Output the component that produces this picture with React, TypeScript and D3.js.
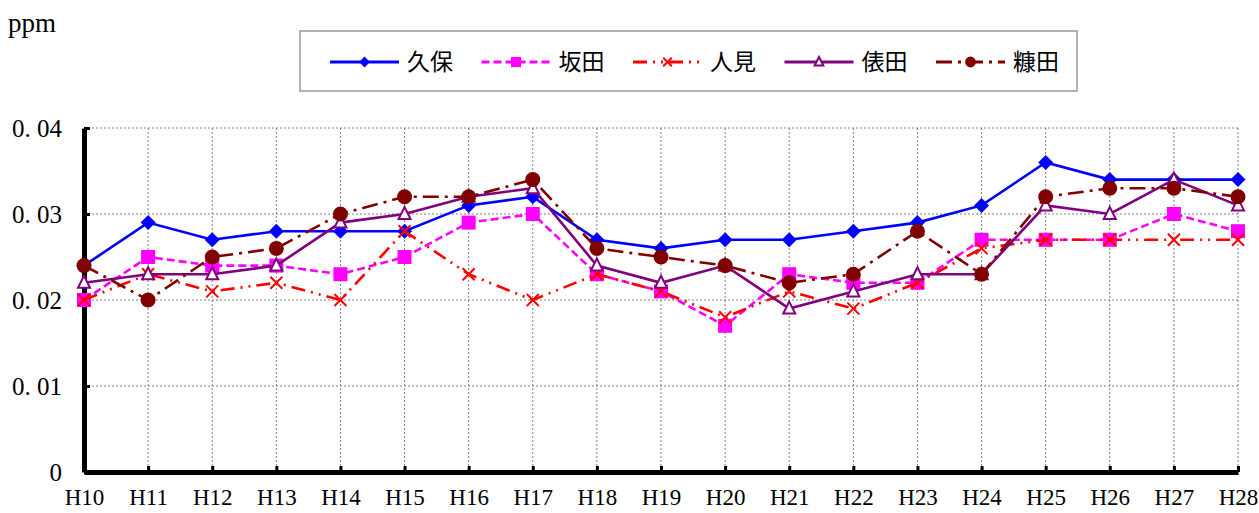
import React, { useEffect, useRef } from 'react';
import * as d3 from 'd3';

const years = ['H10', 'H11', 'H12', 'H13', 'H14', 'H15', 'H16', 'H17', 'H18', 'H19', 'H20', 'H21', 'H22', 'H23', 'H24', 'H25', 'H26', 'H27', 'H28'];

const kubo = [0.024, 0.029, 0.027, 0.028, 0.028, 0.028, 0.031, 0.032, 0.027, 0.026, 0.027, 0.027, 0.028, 0.029, 0.031, 0.036, 0.034, 0.034, 0.034];
const sakata = [0.020, 0.025, 0.024, 0.024, 0.023, 0.025, 0.029, 0.030, 0.023, 0.021, 0.017, 0.023, 0.022, 0.022, 0.027, 0.027, 0.027, 0.030, 0.028];
const hitomi = [0.020, 0.023, 0.021, 0.022, 0.020, 0.028, 0.023, 0.020, 0.023, 0.021, 0.018, 0.021, 0.019, 0.022, 0.026, 0.027, 0.027, 0.027, 0.027];
const tawarada = [0.022, 0.023, 0.023, 0.024, 0.029, 0.030, 0.032, 0.033, 0.024, 0.022, 0.024, 0.019, 0.021, 0.023, 0.023, 0.031, 0.030, 0.034, 0.031];
const nukada = [0.024, 0.020, 0.025, 0.026, 0.030, 0.032, 0.032, 0.034, 0.026, 0.025, 0.024, 0.022, 0.023, 0.028, 0.023, 0.032, 0.033, 0.033, 0.032];

const yTicks = [0, 0.01, 0.02, 0.03, 0.04];
const yTickLabels = ['0', '0. 01', '0. 02', '0. 03', '0. 04'];

type Marker = 'diamond' | 'square' | 'cross' | 'triangle' | 'circle';

const series: { name: string; values: number[]; color: string; dash: string | null; marker: Marker }[] = [
  { name: '久保', values: kubo, color: '#0000ff', dash: null, marker: 'diamond' },
  { name: '坂田', values: sakata, color: '#ff00ff', dash: '8,4', marker: 'square' },
  { name: '人見', values: hitomi, color: '#ff0000', dash: '14,6,2,6,2,6', marker: 'cross' },
  { name: '俵田', values: tawarada, color: '#800080', dash: null, marker: 'triangle' },
  { name: '糠田', values: nukada, color: '#800000', dash: '16,6,3,6', marker: 'circle' },
];

const W = 1259;
const H = 513;
const serif = '"Liberation Serif", "DejaVu Serif", serif';

// s = marker scale (1 in the plot, smaller in the legend)
function drawMarker(g: d3.Selection<SVGGElement, unknown, null, undefined>, type: Marker, x: number, y: number, color: string, s = 1) {
  if (type === 'diamond') {
    g.append('path').attr('d', `M${x},${y - 7.5 * s}L${x + 7.5 * s},${y}L${x},${y + 7.5 * s}L${x - 7.5 * s},${y}Z`).attr('fill', color);
  } else if (type === 'square') {
    g.append('rect').attr('x', x - 7 * s).attr('y', y - 7 * s).attr('width', 14 * s).attr('height', 14 * s).attr('fill', color);
  } else if (type === 'cross') {
    const r = 6 * s;
    g.append('path').attr('d', `M${x - r},${y - r}L${x + r},${y + r}M${x + r},${y - r}L${x - r},${y + r}`)
      .attr('stroke', color).attr('stroke-width', 2).attr('fill', 'none');
  } else if (type === 'triangle') {
    g.append('path').attr('d', `M${x},${y - 7 * s}L${x + 6 * s},${y + 5 * s}L${x - 6 * s},${y + 5 * s}Z`)
      .attr('fill', 'white').attr('stroke', color).attr('stroke-width', 2);
  } else {
    g.append('circle').attr('cx', x).attr('cy', y).attr('r', 7.5 * s).attr('fill', color);
  }
}

const App: React.FC = () => {
  const ref = useRef<SVGSVGElement | null>(null);

  useEffect(() => {
    if (!ref.current) return;
    const svg = d3.select(ref.current);
    svg.selectAll('*').remove();

    const x = d3.scalePoint<string>().domain(years).range([84, 1238]);
    const y = d3.scaleLinear().domain([0, 0.04]).range([472, 128]);

    // grid
    const grid = svg.append('g');
    yTicks.filter(t => t > 0).forEach(t => {
      grid.append('line').attr('x1', 84).attr('x2', 1238).attr('y1', y(t)).attr('y2', y(t))
        .attr('stroke', '#808080').attr('stroke-width', 1).attr('stroke-dasharray', '2,2');
    });
    years.slice(1).forEach(yr => {
      grid.append('line').attr('x1', x(yr)!).attr('x2', x(yr)!).attr('y1', 128).attr('y2', 472)
        .attr('stroke', '#808080').attr('stroke-width', 1).attr('stroke-dasharray', '2,2');
    });

    // axes
    const yAxis = d3.axisLeft(y).tickValues(yTicks).tickSizeInner(-6).tickSizeOuter(0).tickPadding(22)
      .tickFormat((_, i) => yTickLabels[i]);
    const gy = svg.append('g').attr('transform', 'translate(84,0)').call(yAxis);
    gy.select('.domain').attr('stroke-width', 5).attr('stroke', '#000');
    gy.selectAll('.tick line').attr('stroke-width', 3);
    gy.selectAll('text').attr('font-family', serif).attr('font-size', 25).attr('fill', '#000');

    const xAxis = d3.axisBottom(x).tickSizeInner(-6).tickSizeOuter(0).tickPadding(17);
    const gx = svg.append('g').attr('transform', 'translate(0,472)').call(xAxis);
    gx.select('.domain').attr('stroke-width', 5).attr('stroke', '#000');
    gx.selectAll('.tick line').attr('stroke-width', 3);
    gx.selectAll('text').attr('font-family', serif).attr('font-size', 23).attr('fill', '#000');

    svg.append('text').attr('x', 8).attr('y', 32).text('ppm')
      .attr('font-family', serif).attr('font-size', 27);

    // lines
    const line = d3.line<number>().x((_, i) => x(years[i])!).y(d => y(d));
    series.forEach(s => {
      const g = svg.append('g');
      g.append('path').datum(s.values).attr('d', line).attr('fill', 'none')
        .attr('stroke', s.color).attr('stroke-width', 2.6)
        .attr('stroke-dasharray', s.dash ?? null);
      s.values.forEach((v, i) => drawMarker(g, s.marker, x(years[i])!, y(v), s.color));
    });

    // legend
    const lg = svg.append('g');
    lg.append('rect').attr('x', 300).attr('y', 31).attr('width', 777).attr('height', 60)
      .attr('fill', 'white').attr('stroke', '#999').attr('stroke-width', 1.5);
    series.forEach((s, i) => {
      const x0 = 330 + i * 151.5;
      const ly = 62;
      lg.append('line').attr('x1', x0).attr('x2', x0 + 69).attr('y1', ly).attr('y2', ly)
        .attr('stroke', s.color).attr('stroke-width', 3).attr('stroke-dasharray', s.dash ?? null);
      drawMarker(lg, s.marker, x0 + 34.5, ly, s.color, 0.72);
      lg.append('text').attr('x', x0 + 77).attr('y', ly).attr('dy', '0.36em').text(s.name)
        .attr('font-family', '"Noto Sans CJK JP", sans-serif').attr('font-size', 23).attr('fill', '#000');
    });
  }, []);

  return (
    <svg ref={ref} width={W} height={H} style={{ position: 'absolute', left: 0, top: 0, background: 'white' }} />
  );
};

export default App;
